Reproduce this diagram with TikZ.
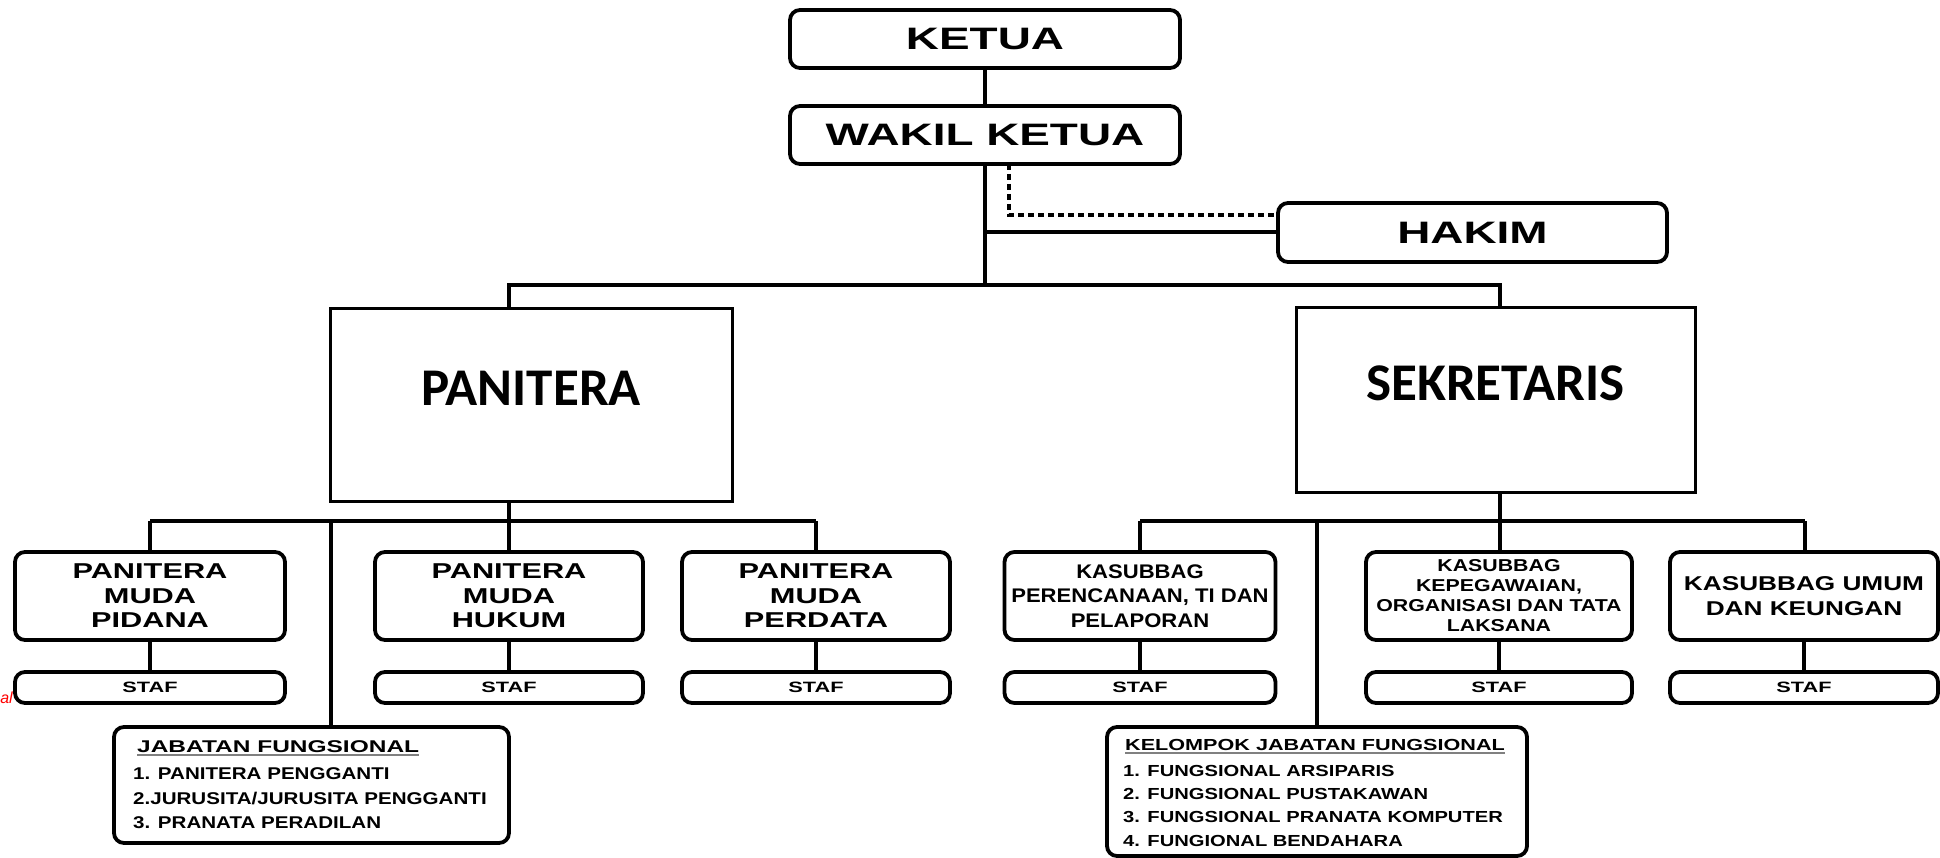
\documentclass[tikz,border=0pt]{standalone}
\usepackage{fontspec}
\newfontfamily\fBig{Liberation Sans}[FakeStretch=1.48]
\newfontfamily\fMud{Liberation Sans}[FakeStretch=1.43]
\newfontfamily\fStaf{Liberation Sans}[FakeStretch=1.45]
\newfontfamily\fKa{Liberation Sans}[FakeStretch=1.12]
\newfontfamily\fKb{Liberation Sans}[FakeStretch=1.24]
\newfontfamily\fKc{Liberation Sans}[FakeStretch=1.31]
\newfontfamily\fHeadA{Liberation Sans}[FakeStretch=1.44]
\newfontfamily\fHeadB{Liberation Sans}[FakeStretch=1.35]
\newfontfamily\fListA{Liberation Sans}[FakeStretch=1.21]
\newfontfamily\fListB{Liberation Sans}[FakeStretch=1.26]
\newfontfamily\fPlain{Liberation Sans}
\newfontfamily\fCal{Carlito}
\begin{document}
\begin{tikzpicture}[x=1pt,y=-1pt,
  rbox/.style={draw, line width=3.8pt, rounded corners=10pt, inner sep=0pt, align=center},
  sqbox/.style={draw, line width=3pt, inner sep=0pt},
  conn/.style={line width=4pt},
  dotconn/.style={line width=4pt, dash pattern=on 6pt off 4pt},
  bigtxt/.style={font={\fBig\bfseries\fontsize{31pt}{34pt}\selectfont}},
  mudtxt/.style={font={\fMud\bfseries\fontsize{21.5pt}{24.5pt}\selectfont}},
  staftxt/.style={font={\fStaf\bfseries\fontsize{15pt}{17pt}\selectfont}},
  katxt/.style={font={\fKa\bfseries\fontsize{19.7pt}{24.5pt}\selectfont}},
  kbtxt/.style={font={\fKb\bfseries\fontsize{17.2pt}{20pt}\selectfont}},
  kctxt/.style={font={\fKc\bfseries\fontsize{20pt}{25pt}\selectfont}},
  caltxt/.style={font={\fCal\bfseries\fontsize{53pt}{58pt}\selectfont}, inner sep=0pt},
  headA/.style={font={\fHeadA\bfseries\fontsize{17pt}{20pt}\selectfont}, inner sep=0pt, anchor=base west},
  headB/.style={font={\fHeadB\bfseries\fontsize{16pt}{19pt}\selectfont}, inner sep=0pt, anchor=base west},
  listA/.style={font={\fListA\bfseries\fontsize{17pt}{20pt}\selectfont}, inner sep=0pt, anchor=base west},
  listB/.style={font={\fListB\bfseries\fontsize{16pt}{19pt}\selectfont}, inner sep=0pt, anchor=base west},
  uline/.style={draw=gray, line width=1.6pt}
]
\useasboundingbox (0,0) rectangle (1940,858);

% top
\node[rbox, bigtxt, minimum width=390pt, minimum height=58pt] (ketua) at (985,39) {KETUA};
\node[rbox, bigtxt, minimum width=390pt, minimum height=58pt] (wakil) at (985,135) {WAKIL KETUA};
\node[rbox, bigtxt, minimum width=389pt, minimum height=59pt] (hakim) at (1472.5,232.5) {HAKIM};

% main boxes
\node[sqbox, minimum width=402pt, minimum height=192pt] (panitera) at (531,405) {};
\node[caltxt] (paniteraT) at (531,388) {PANITERA};
\node[sqbox, minimum width=399pt, minimum height=184pt] (sekretaris) at (1495.5,400) {};
\node[caltxt] (sekretarisT) at (1495.5,383) {SEKRETARIS};

% left sub boxes
\node[rbox, mudtxt, minimum width=270pt, minimum height=88pt] (pidana) at (150,596) {PANITERA\\MUDA\\PIDANA};
\node[rbox, mudtxt, minimum width=268pt, minimum height=88pt] (hukum) at (509,596) {PANITERA\\MUDA\\HUKUM};
\node[rbox, mudtxt, minimum width=268pt, minimum height=88pt] (perdata) at (816,596) {PANITERA\\MUDA\\PERDATA};
\node[rbox, staftxt, minimum width=270pt, minimum height=31pt] (staf1) at (150,687.5) {STAF};
\node[rbox, staftxt, minimum width=268pt, minimum height=31pt] (staf2) at (509,687.5) {STAF};
\node[rbox, staftxt, minimum width=268pt, minimum height=31pt] (staf3) at (816,687.5) {STAF};

% right sub boxes
\node[rbox, katxt, minimum width=271pt, minimum height=88pt] (renc) at (1140,596) {KASUBBAG\\PERENCANAAN, TI DAN\\PELAPORAN};
\node[rbox, kbtxt, minimum width=266pt, minimum height=88pt] (kepeg) at (1499,596) {KASUBBAG\\KEPEGAWAIAN,\\ORGANISASI DAN TATA\\LAKSANA};
\node[rbox, kctxt, minimum width=268pt, minimum height=88pt] (umum) at (1804,596) {KASUBBAG UMUM\\DAN KEUNGAN};
\node[rbox, staftxt, minimum width=271pt, minimum height=31pt] (staf4) at (1140,687.5) {STAF};
\node[rbox, staftxt, minimum width=266pt, minimum height=31pt] (staf5) at (1499,687.5) {STAF};
\node[rbox, staftxt, minimum width=268pt, minimum height=31pt] (staf6) at (1804,687.5) {STAF};

% functional boxes
\node[rbox, minimum width=395pt, minimum height=116pt] (jabatan) at (311.5,785) {};
\node[headA] (jh) at (137,752) {JABATAN FUNGSIONAL};
\draw[uline] ([yshift=-3pt]jh.base west) -- ([yshift=-3pt]jh.base east);
\node[listA] (j1) at (133,779) {1. PANITERA PENGGANTI};
\node[listA] (j2) at (133,804) {2.JURUSITA/JURUSITA PENGGANTI};
\node[listA] (j3) at (133,828) {3. PRANATA PERADILAN};

\node[rbox, minimum width=420pt, minimum height=129pt] (kelompok) at (1317,791.5) {};
\node[headB] (kh) at (1125,750) {KELOMPOK JABATAN FUNGSIONAL};
\draw[uline] ([yshift=-3pt]kh.base west) -- ([yshift=-3pt]kh.base east);
\node[listB] (k1) at (1123,776) {1. FUNGSIONAL ARSIPARIS};
\node[listB] (k2) at (1123,799) {2. FUNGSIONAL PUSTAKAWAN};
\node[listB] (k3) at (1123,822) {3. FUNGSIONAL PRANATA KOMPUTER};
\node[listB] (k4) at (1123,846) {4. FUNGIONAL BENDAHARA};

% red fragment
\node[anchor=east, inner sep=0pt, text=red, font={\fPlain\itshape\fontsize{16pt}{18pt}\selectfont}] (frag) at (13,698) {al};

% connectors top
\draw[conn] (ketua.south) -- (wakil.north);
\coordinate (topJ) at (985,285);
\coordinate (tL) at (509,285);
\coordinate (tR) at (1500,285);
\draw[conn] (wakil.south) -- (topJ);
\draw[line width=3.5pt] (panitera.north -| tL) -- (tL) -- (tR) -- (sekretaris.north -| tR);
\coordinate (hj) at (985,232.5);
\draw[conn] (hj) -- (hakim.west);
\coordinate (d0) at (1009,164);
\coordinate (d1) at (1009,215);
\draw[dotconn] (d0) -- (d1) -- (hakim.west |- d1);

% left group
\coordinate (pj) at (509,521);
\coordinate (pl) at (150,521);
\coordinate (pr) at (816,521);
\coordinate (pf) at (331,521);
\draw[conn] (panitera.south -| pj) -- (pj);
\draw[conn] (pl) -- (pr);
\draw[conn] (pl) -- (pidana.north);
\draw[conn] (pj) -- (hukum.north);
\draw[conn] (pr) -- (perdata.north);
\draw[conn] (pf) -- (jabatan.north -| pf);
\draw[conn] (pidana.south) -- (staf1.north);
\draw[conn] (hukum.south) -- (staf2.north);
\draw[conn] (perdata.south) -- (staf3.north);

% right group
\coordinate (sj) at (1500,521);
\coordinate (sl) at (1140,521);
\coordinate (sr) at (1805,521);
\coordinate (sf) at (1317,521);
\draw[conn] (sekretaris.south -| sj) -- (sj);
\draw[conn] (sl) -- (sr);
\draw[conn] (sl) -- (renc.north);
\draw[conn] (sj) -- (kepeg.north -| sj);
\draw[conn] (sr) -- (umum.north -| sr);
\draw[conn] (sf) -- (kelompok.north);
\draw[conn] (renc.south) -- (staf4.north);
\draw[conn] (kepeg.south) -- (staf5.north);
\draw[conn] (umum.south) -- (staf6.north);
\end{tikzpicture}
\end{document}
